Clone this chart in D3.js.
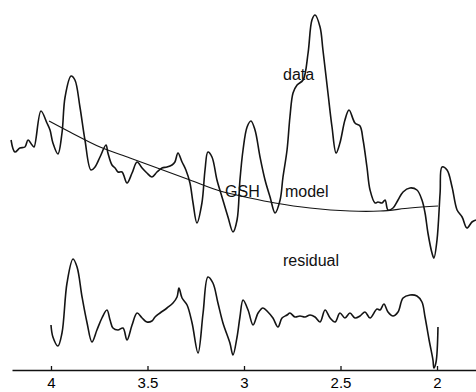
<!DOCTYPE html>
<html>
<head>
<meta charset="utf-8">
<script src="https://cdn.jsdelivr.net/npm/d3@7"></script>
<style>
  body { margin: 0; background: #fff; }
  svg { display: block; }
  .axis text { font-family: "Liberation Sans", Arial, sans-serif; font-size: 15px; fill: #000; }
  .axis path, .axis line { stroke: #111; stroke-width: 1.3; }
  .lbl { font-family: "Liberation Sans", Arial, sans-serif; font-size: 16px; fill: #111; }
</style>
</head>
<body>
<script>
'use strict'

// chemical shift (ppm) and signal (a.u.)
const dataPpm = [4.207, 4.187, 4.161, 4.135, 4.119, 4.098, 4.088, 4.052, 4.021, 4.005,
  3.990, 3.964, 3.943, 3.927, 3.896, 3.876, 3.850, 3.824, 3.793, 3.772,
  3.746, 3.715, 3.705, 3.684, 3.668, 3.653, 3.632, 3.606, 3.580, 3.554,
  3.528, 3.503, 3.477, 3.451, 3.425, 3.399, 3.373, 3.358, 3.342, 3.321,
  3.301, 3.280, 3.264, 3.244, 3.218, 3.202, 3.187, 3.166, 3.140, 3.114,
  3.083, 3.057, 3.036, 3.021, 3.005, 2.984, 2.964, 2.943, 2.917, 2.891,
  2.865, 2.839, 2.813, 2.798, 2.777, 2.762, 2.746, 2.725, 2.694, 2.668,
  2.648, 2.632, 2.606, 2.591, 2.565, 2.544, 2.523, 2.503, 2.477, 2.456,
  2.425, 2.399, 2.383, 2.363, 2.347, 2.321, 2.306, 2.285, 2.269, 2.254,
  2.228, 2.202, 2.176, 2.140, 2.104, 2.078, 2.062, 2.047, 2.026, 2.016,
  2.000, 1.984, 1.974, 1.948, 1.922, 1.896, 1.870, 1.845, 1.819, 1.798]
const dataSignal = [230, 218, 222, 223, 230, 225, 223, 259, 247, 240,
  227, 216, 237, 273, 294, 290, 263, 230, 200, 203,
  213, 225, 217, 205, 202, 198, 198, 187, 197, 208,
  202, 197, 193, 198, 202, 203, 205, 208, 217, 208,
  200, 187, 167, 147, 167, 200, 218, 213, 190, 173,
  153, 138, 150, 190, 220, 243, 249, 240, 213, 190,
  173, 157, 170, 193, 220, 253, 277, 285, 290, 317,
  350, 355, 343, 320, 277, 243, 217, 227, 250, 260,
  247, 244, 230, 203, 180, 167, 168, 167, 170, 160,
  162, 170, 178, 182, 180, 170, 157, 137, 117, 112,
  130, 177, 203, 200, 183, 160, 153, 142, 148, 150]

const modelPpm = [4.010, 3.902, 3.746, 3.591, 3.435, 3.280, 3.124, 2.969, 2.839, 2.658,
  2.451, 2.295, 2.140, 1.995]
const modelSignal = [249, 238, 223, 212, 201, 190, 179, 172, 167, 162,
  159, 159, 162, 164]

const residualPpm = [4.000, 3.990, 3.964, 3.943, 3.917, 3.886, 3.865, 3.839, 3.813, 3.788,
  3.762, 3.736, 3.710, 3.694, 3.679, 3.653, 3.627, 3.606, 3.580, 3.554,
  3.528, 3.503, 3.477, 3.461, 3.435, 3.399, 3.368, 3.347, 3.337, 3.321,
  3.295, 3.269, 3.238, 3.212, 3.187, 3.161, 3.135, 3.109, 3.073, 3.057,
  3.036, 3.021, 3.005, 2.979, 2.953, 2.927, 2.902, 2.876, 2.850, 2.824,
  2.803, 2.777, 2.762, 2.736, 2.710, 2.684, 2.658, 2.632, 2.606, 2.580,
  2.554, 2.528, 2.503, 2.477, 2.451, 2.425, 2.399, 2.373, 2.347, 2.311,
  2.295, 2.275, 2.254, 2.228, 2.202, 2.176, 2.140, 2.104, 2.078, 2.062,
  2.041, 2.021, 2.016, 2.005, 1.995]
const residualSignal = [45, 33, 24, 37, 87, 111, 103, 73, 47, 28,
  40, 52, 60, 50, 42, 40, 42, 30, 45, 57,
  52, 48, 49, 53, 57, 62, 67, 73, 82, 72,
  65, 47, 17, 57, 93, 87, 67, 47, 27, 15,
  33, 53, 70, 60, 45, 57, 62, 58, 52, 43,
  52, 55, 57, 53, 54, 53, 55, 53, 48, 60,
  52, 48, 57, 52, 57, 52, 54, 58, 52, 61,
  60, 66, 58, 54, 58, 72, 75, 74, 68, 53,
  30, 10, 2, 8, 43]

const tickValues = [4, 3.5, 3, 2.5, 2]
const labels = [
  {text: 'data', ppm: 2.798, signal: 290},
  {text: 'GSH', ppm: 3.098, signal: 173},
  {text: 'model', ppm: 2.788, signal: 173},
  {text: 'residual', ppm: 2.798, signal: 104}
]

const width = 476
const height = 392
const axisY = 370

const svg = d3.select('body').append('svg')
  .attr('width', width)
  .attr('height', height)

// ppm axis runs right to left
const x = d3.scaleLinear()
  .domain([4.202, 1.798])
  .range([12, 476])
const y = d3.scaleLinear()
  .domain([0, 370])
  .range([axisY, 0])

const xAxis = d3.axisBottom(x)
  .tickValues(tickValues)
  .tickFormat(function (d) { return d })
  .tickSizeInner(-4)
  .tickSizeOuter(0)
  .tickPadding(7)

svg.append('g')
  .attr('class', 'axis')
  .attr('transform', 'translate(0,' + axisY + ')')
  .call(xAxis)

const line = d3.line()
  .x(function (d) { return x(d[0]) })
  .y(function (d) { return y(d[1]) })
  .curve(d3.curveCatmullRom.alpha(0.5))

const series = [
  {ppm: modelPpm, signal: modelSignal, w: 1.2},
  {ppm: dataPpm, signal: dataSignal, w: 1.6},
  {ppm: residualPpm, signal: residualSignal, w: 1.6}
]

svg.selectAll('.trace')
  .data(series)
  .enter()
  .append('path')
  .attr('class', 'trace')
  .attr('fill', 'none')
  .attr('stroke', '#141414')
  .attr('stroke-width', function (d) { return d.w })
  .attr('stroke-linejoin', 'round')
  .attr('d', function (d) { return line(d.ppm.map(function (p, i) { return [p, d.signal[i]] })) })

svg.selectAll('.lbl')
  .data(labels)
  .enter()
  .append('text')
  .attr('class', 'lbl')
  .attr('x', function (d) { return x(d.ppm) })
  .attr('y', function (d) { return y(d.signal) })
  .text(function (d) { return d.text })
</script>
</body>
</html>
